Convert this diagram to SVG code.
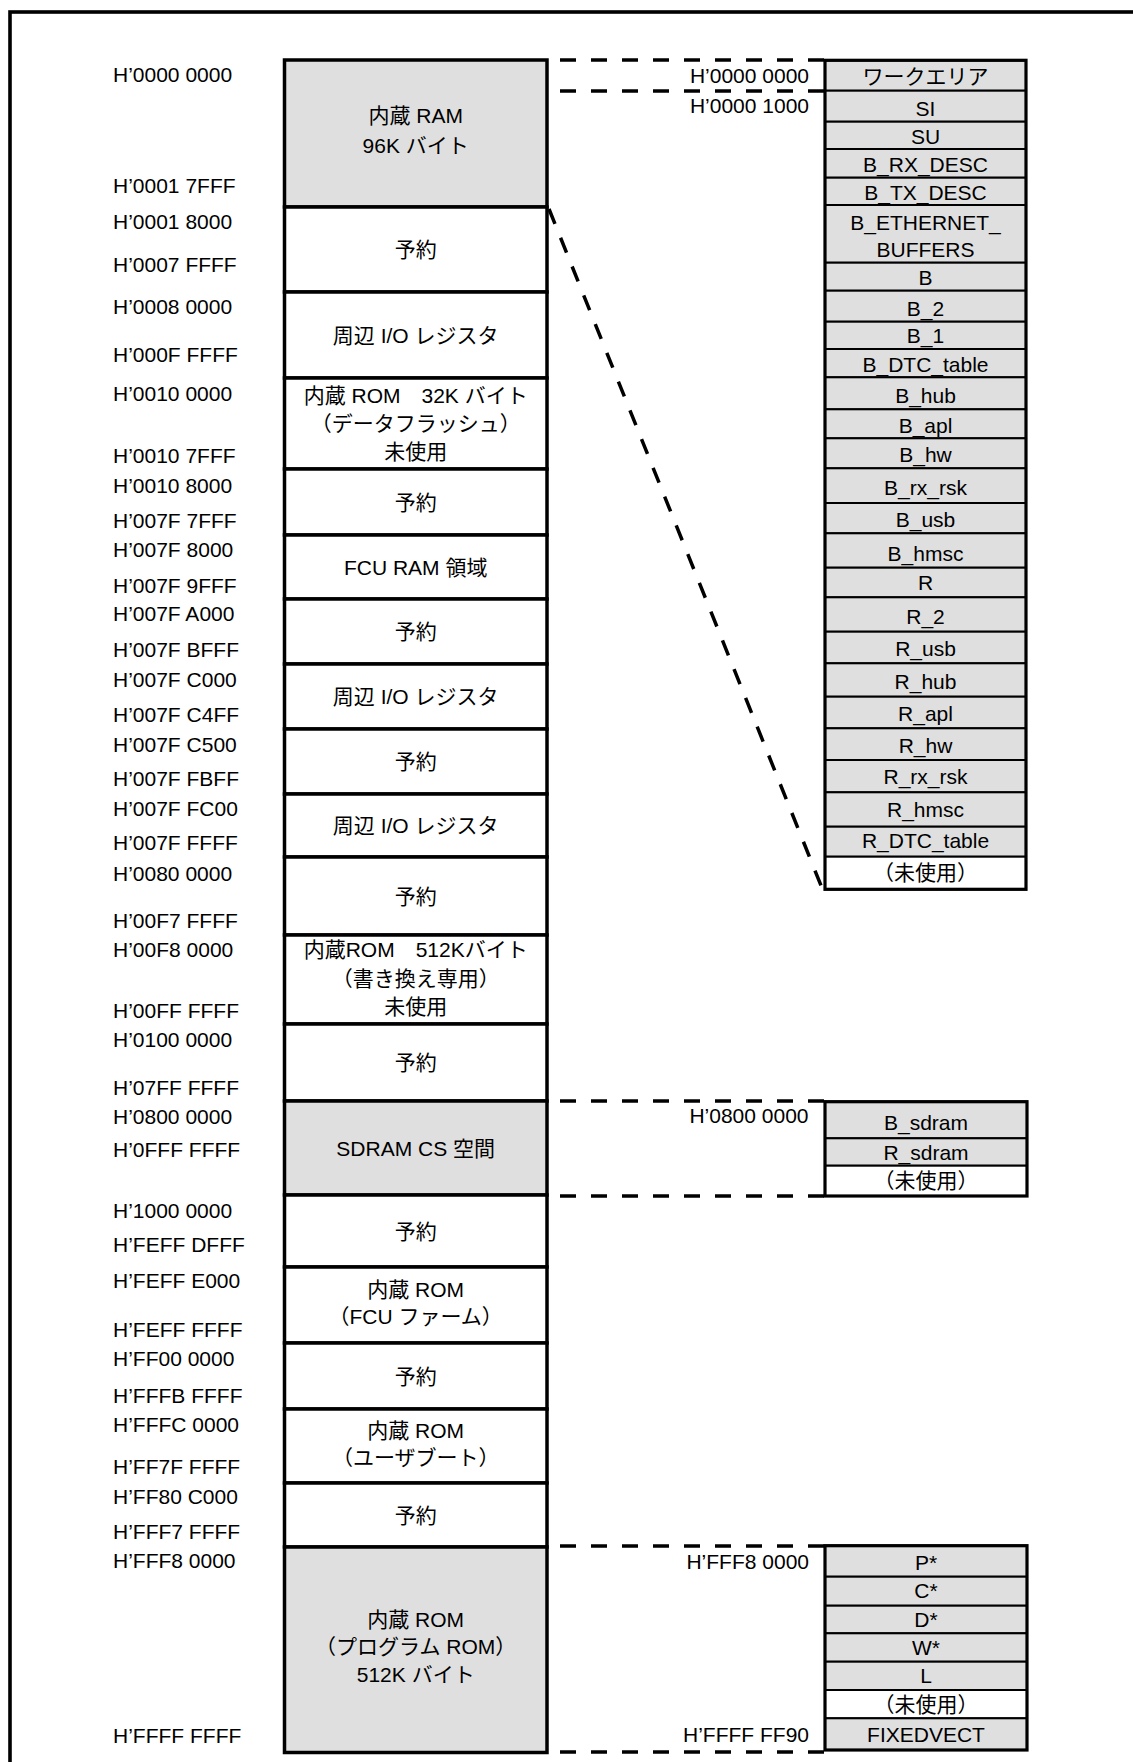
<svg xmlns="http://www.w3.org/2000/svg" width="1133" height="1762" viewBox="0 0 1133 1762">
<defs>
<style>
text{font-family:"Liberation Sans","Noto Sans CJK JP",sans-serif;font-size:21px;fill:#000}
.c{text-anchor:middle}
.r{text-anchor:end}
.blk{stroke:#000;stroke-width:3.5}
.g{fill:#dfdfdf}
.w{fill:#fff}
.cell{stroke:#000;stroke-width:2}
.tb{fill:none;stroke:#000;stroke-width:3.2}
.dash{fill:none;stroke:#000;stroke-width:3.5;stroke-dasharray:16 15}
</style>
</defs>
<rect x="0" y="0" width="1133" height="1762" fill="#fff"/>
<rect id="frame" x="10" y="12" width="1200" height="1800" fill="none" stroke="#000" stroke-width="3.6"/>

<g id="addr-labels">
<text x="113" y="81.7">H’0000 0000</text>
<text x="113" y="192.7">H’0001 7FFF</text>
<text x="113" y="229.3">H’0001 8000</text>
<text x="113" y="271.7">H’0007 FFFF</text>
<text x="113" y="314">H’0008 0000</text>
<text x="113" y="361.7">H’000F FFFF</text>
<text x="113" y="400.7">H’0010 0000</text>
<text x="113" y="463.3">H’0010 7FFF</text>
<text x="113" y="492.7">H’0010 8000</text>
<text x="113" y="527.7">H’007F 7FFF</text>
<text x="113" y="556.7">H’007F 8000</text>
<text x="113" y="592.7">H’007F 9FFF</text>
<text x="113" y="620.7">H’007F A000</text>
<text x="113" y="656.7">H’007F BFFF</text>
<text x="113" y="686.7">H’007F C000</text>
<text x="113" y="721.7">H’007F C4FF</text>
<text x="113" y="751.7">H’007F C500</text>
<text x="113" y="786">H’007F FBFF</text>
<text x="113" y="815.7">H’007F FC00</text>
<text x="113" y="850">H’007F FFFF</text>
<text x="113" y="880.7">H’0080 0000</text>
<text x="113" y="927.7">H’00F7 FFFF</text>
<text x="113" y="956.7">H’00F8 0000</text>
<text x="113" y="1018.3">H’00FF FFFF</text>
<text x="113" y="1047.3">H’0100 0000</text>
<text x="113" y="1095">H’07FF FFFF</text>
<text x="113" y="1124">H’0800 0000</text>
<text x="113" y="1156.7">H’0FFF FFFF</text>
<text x="113" y="1217.7">H’1000 0000</text>
<text x="113" y="1251.7">H’FEFF DFFF</text>
<text x="113" y="1288.3">H’FEFF E000</text>
<text x="113" y="1336.7">H’FEFF FFFF</text>
<text x="113" y="1366">H’FF00 0000</text>
<text x="113" y="1402.7">H’FFFB FFFF</text>
<text x="113" y="1431.7">H’FFFC 0000</text>
<text x="113" y="1474.3">H’FF7F FFFF</text>
<text x="113" y="1504">H’FF80 C000</text>
<text x="113" y="1539.3">H’FFF7 FFFF</text>
<text x="113" y="1568.3">H’FFF8 0000</text>
<text x="113" y="1743">H’FFFF FFFF</text>
</g>

<g id="connectors">
<line class="dash" x1="560" y1="60" x2="825" y2="60"/>
<line class="dash" x1="560" y1="91" x2="825" y2="91"/>
<line class="dash" x1="549" y1="209" x2="822" y2="888"/>
<line class="dash" x1="560" y1="1101" x2="825" y2="1101"/>
<line class="dash" x1="560" y1="1196" x2="825" y2="1196"/>
<line class="dash" x1="560" y1="1546" x2="825" y2="1546"/>
<line class="dash" x1="560" y1="1752" x2="825" y2="1752"/>
</g>

<g id="mem-ram"><rect class="blk g" x="284.5" y="60" width="262.5" height="147"/><text class="c" x="415.7" y="123.3">内蔵 RAM</text><text class="c" x="415.7" y="153.3">96K バイト</text></g>
<g id="mem-rsv1"><rect class="blk w" x="284.5" y="207" width="262.5" height="85"/><text class="c" x="415.7" y="257">予約</text></g>
<g id="mem-io1"><rect class="blk w" x="284.5" y="292" width="262.5" height="86"/><text class="c" x="415.7" y="342.5">周辺 I/O レジスタ</text></g>
<g id="mem-dflash"><rect class="blk w" x="284.5" y="378" width="262.5" height="91"/><text class="c" x="415.7" y="402.5">内蔵 ROM　32K バイト</text><text class="c" x="415.7" y="430.5">（データフラッシュ）</text><text class="c" x="415.7" y="459">未使用</text></g>
<g id="mem-rsv2"><rect class="blk w" x="284.5" y="469" width="262.5" height="66"/><text class="c" x="415.7" y="509.5">予約</text></g>
<g id="mem-fcuram"><rect class="blk w" x="284.5" y="535" width="262.5" height="64"/><text class="c" x="415.7" y="574.5">FCU RAM 領域</text></g>
<g id="mem-rsv3"><rect class="blk w" x="284.5" y="599" width="262.5" height="65"/><text class="c" x="415.7" y="639">予約</text></g>
<g id="mem-io2"><rect class="blk w" x="284.5" y="664" width="262.5" height="65"/><text class="c" x="415.7" y="704">周辺 I/O レジスタ</text></g>
<g id="mem-rsv4"><rect class="blk w" x="284.5" y="729" width="262.5" height="65"/><text class="c" x="415.7" y="769">予約</text></g>
<g id="mem-io3"><rect class="blk w" x="284.5" y="794" width="262.5" height="63"/><text class="c" x="415.7" y="833">周辺 I/O レジスタ</text></g>
<g id="mem-rsv5"><rect class="blk w" x="284.5" y="857" width="262.5" height="78"/><text class="c" x="415.7" y="903.5">予約</text></g>
<g id="mem-rom512w"><rect class="blk w" x="284.5" y="935" width="262.5" height="89"/><text class="c" x="415.7" y="957.3">内蔵ROM　512Kバイト</text><text class="c" x="415.7" y="986">（書き換え専用）</text><text class="c" x="415.7" y="1014">未使用</text></g>
<g id="mem-rsv6"><rect class="blk w" x="284.5" y="1024" width="262.5" height="77"/><text class="c" x="415.7" y="1070">予約</text></g>
<g id="mem-sdram"><rect class="blk g" x="284.5" y="1101" width="262.5" height="94"/><text class="c" x="415.7" y="1155.5">SDRAM CS 空間</text></g>
<g id="mem-rsv7"><rect class="blk w" x="284.5" y="1195" width="262.5" height="72"/><text class="c" x="415.7" y="1238.5">予約</text></g>
<g id="mem-fcufw"><rect class="blk w" x="284.5" y="1267" width="262.5" height="76"/><text class="c" x="415.7" y="1296.7">内蔵 ROM</text><text class="c" x="415.7" y="1324">（FCU ファーム）</text></g>
<g id="mem-rsv8"><rect class="blk w" x="284.5" y="1343" width="262.5" height="66"/><text class="c" x="415.7" y="1383.5">予約</text></g>
<g id="mem-userboot"><rect class="blk w" x="284.5" y="1409" width="262.5" height="74"/><text class="c" x="415.7" y="1438.3">内蔵 ROM</text><text class="c" x="415.7" y="1465">（ユーザブート）</text></g>
<g id="mem-rsv9"><rect class="blk w" x="284.5" y="1483" width="262.5" height="64"/><text class="c" x="415.7" y="1522.5">予約</text></g>
<g id="mem-progrom"><rect class="blk g" x="284.5" y="1547" width="262.5" height="205.5"/><text class="c" x="415.7" y="1626.7">内蔵 ROM</text><text class="c" x="415.7" y="1654.3">（プログラム ROM）</text><text class="c" x="415.7" y="1681.7">512K バイト</text></g>

<g id="ram-sections">
<text class="r" x="809" y="83.3">H’0000 0000</text>
<text class="r" x="809" y="113.3">H’0000 1000</text>
<g id="s-work"><rect class="cell g" x="825" y="60.3" width="201" height="30.4"/><text class="c" x="925.5" y="84.3">ワークエリア</text></g>
<g id="s-si"><rect class="cell g" x="825" y="90.7" width="201" height="31"/><text class="c" x="925.5" y="116">SI</text></g>
<g id="s-su"><rect class="cell g" x="825" y="121.7" width="201" height="27.3"/><text class="c" x="925.5" y="144">SU</text></g>
<g id="s-brx"><rect class="cell g" x="825" y="149" width="201" height="28.7"/><text class="c" x="925.5" y="172.3">B_RX_DESC</text></g>
<g id="s-btx"><rect class="cell g" x="825" y="177.7" width="201" height="27.3"/><text class="c" x="925.5" y="200">B_TX_DESC</text></g>
<g id="s-beth"><rect class="cell g" x="825" y="205" width="201" height="57.7"/><text class="c" x="925.5" y="230">B_ETHERNET_</text><text class="c" x="925.5" y="256.7">BUFFERS</text></g>
<g id="s-b"><rect class="cell g" x="825" y="262.7" width="201" height="28"/><text class="c" x="925.5" y="285">B</text></g>
<g id="s-b2"><rect class="cell g" x="825" y="290.7" width="201" height="31"/><text class="c" x="925.5" y="316">B_2</text></g>
<g id="s-b1"><rect class="cell g" x="825" y="321.7" width="201" height="27.3"/><text class="c" x="925.5" y="343.3">B_1</text></g>
<g id="s-bdtc"><rect class="cell g" x="825" y="349" width="201" height="28.3"/><text class="c" x="925.5" y="371.7">B_DTC_table</text></g>
<g id="s-bhub"><rect class="cell g" x="825" y="377.3" width="201" height="32"/><text class="c" x="925.5" y="403.3">B_hub</text></g>
<g id="s-bapl"><rect class="cell g" x="825" y="409.3" width="201" height="29"/><text class="c" x="925.5" y="432.7">B_apl</text></g>
<g id="s-bhw"><rect class="cell g" x="825" y="438.3" width="201" height="30"/><text class="c" x="925.5" y="461.7">B_hw</text></g>
<g id="s-brxrsk"><rect class="cell g" x="825" y="468.3" width="201" height="34.7"/><text class="c" x="925.5" y="495">B_rx_rsk</text></g>
<g id="s-busb"><rect class="cell g" x="825" y="503" width="201" height="30.3"/><text class="c" x="925.5" y="526.7">B_usb</text></g>
<g id="s-bhmsc"><rect class="cell g" x="825" y="533.3" width="201" height="34.4"/><text class="c" x="925.5" y="561">B_hmsc</text></g>
<g id="s-r"><rect class="cell g" x="825" y="567.7" width="201" height="29.6"/><text class="c" x="925.5" y="590">R</text></g>
<g id="s-r2"><rect class="cell g" x="825" y="597.3" width="201" height="34.4"/><text class="c" x="925.5" y="624">R_2</text></g>
<g id="s-rusb"><rect class="cell g" x="825" y="631.7" width="201" height="31.6"/><text class="c" x="925.5" y="655.7">R_usb</text></g>
<g id="s-rhub"><rect class="cell g" x="825" y="663.3" width="201" height="33.4"/><text class="c" x="925.5" y="689.3">R_hub</text></g>
<g id="s-rapl"><rect class="cell g" x="825" y="696.7" width="201" height="31.6"/><text class="c" x="925.5" y="720.7">R_apl</text></g>
<g id="s-rhw"><rect class="cell g" x="825" y="728.3" width="201" height="31.7"/><text class="c" x="925.5" y="753.3">R_hw</text></g>
<g id="s-rrxrsk"><rect class="cell g" x="825" y="760" width="201" height="32.3"/><text class="c" x="925.5" y="784">R_rx_rsk</text></g>
<g id="s-rhmsc"><rect class="cell g" x="825" y="792.3" width="201" height="34.4"/><text class="c" x="925.5" y="817.3">R_hmsc</text></g>
<g id="s-rdtc"><rect class="cell g" x="825" y="826.7" width="201" height="30"/><text class="c" x="925.5" y="848.3">R_DTC_table</text></g>
<g id="s-unused1"><rect class="cell w" x="825" y="856.7" width="201" height="32.6"/><text class="c" x="925.5" y="880">（未使用）</text></g>
<rect class="tb" x="825" y="60.3" width="201" height="829"/>
</g>

<g id="sdram-sections">
<text class="r" x="808.5" y="1123.3">H’0800 0000</text>
<g id="s-bsdram"><rect class="cell g" x="825" y="1101.7" width="202" height="36.6"/><text class="c" x="926" y="1130">B_sdram</text></g>
<g id="s-rsdram"><rect class="cell g" x="825" y="1138.3" width="202" height="27.4"/><text class="c" x="926" y="1160">R_sdram</text></g>
<g id="s-unused2"><rect class="cell w" x="825" y="1165.7" width="202" height="30.3"/><text class="c" x="926" y="1188.3">（未使用）</text></g>
<rect class="tb" x="825" y="1101.7" width="202" height="94.3"/>
</g>

<g id="rom-sections">
<text class="r" x="809" y="1568.5">H’FFF8 0000</text>
<text class="r" x="809" y="1742">H’FFFF FF90</text>
<g id="s-p"><rect class="cell g" x="825" y="1545.7" width="202" height="31"/><text class="c" x="926" y="1570">P*</text></g>
<g id="s-c"><rect class="cell g" x="825" y="1576.7" width="202" height="29"/><text class="c" x="926" y="1598.3">C*</text></g>
<g id="s-d"><rect class="cell g" x="825" y="1605.7" width="202" height="27.6"/><text class="c" x="926" y="1626.7">D*</text></g>
<g id="s-w"><rect class="cell g" x="825" y="1633.3" width="202" height="28.4"/><text class="c" x="926" y="1655">W*</text></g>
<g id="s-l"><rect class="cell g" x="825" y="1661.7" width="202" height="28.3"/><text class="c" x="926" y="1683.3">L</text></g>
<g id="s-unused3"><rect class="cell w" x="825" y="1690" width="202" height="28.3"/><text class="c" x="926" y="1711.7">（未使用）</text></g>
<g id="s-fixed"><rect class="cell g" x="825" y="1718.3" width="202" height="31.7"/><text class="c" x="926" y="1742">FIXEDVECT</text></g>
<rect class="tb" x="825" y="1545.7" width="202" height="204.3"/>
</g>
</svg>
